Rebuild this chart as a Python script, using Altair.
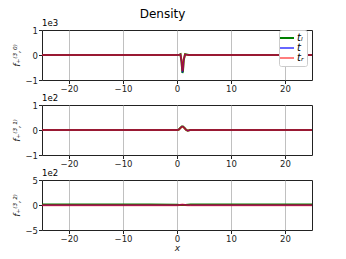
import altair as alt
import pandas as pd

# ---- data ----
series_names = ["tₗ", "t", "tᵣ"]

x1 = [-25, -5, 0.0, 0.4, 0.65, 0.85, 1.0, 1.1, 1.25, 1.5, 1.75, 2.2, 5, 25]
tl1 = [0, 0, 0, 5, 30, -300, -720, -650, -200, 30, 20, 0, 0, 0]
t1 = [0, 0, 0, 5, 25, -280, -690, -620, -190, 25, 15, 0, 0, 0]
tr1 = [0, 0, 0, 5, 20, -260, -650, -580, -170, 20, 10, 0, 0, 0]

x2 = [-25, -5, 0.0, 0.3, 0.6, 0.9, 1.1, 1.4, 1.7, 2.0, 2.4, 5, 25]
tl2 = [0, 0, 0, 1, 8, 14, 14, 8, 0, -3, 0, 0, 0]
t2 = [0, 0, 0, 1, 8, 14, 14, 8, 0, -3, 0, 0, 0]
tr2 = [0, 0, 0, 1, 7, 13, 13, 7, 0, -3, 0, 0, 0]

x3 = [-25, -5, 0.0, 0.5, 1.0, 1.5, 2.0, 2.5, 5, 25]
tl3 = [8, 8, 6, 2, 0, 2, 6, 8, 8, 8]
t3 = [-4, -4, -4, 2, 8, 2, -4, -4, -4, -4]
tr3 = [-4, -4, -4, 2, 8, 2, -4, -4, -4, -4]

y_titles = ["f₊⁽³,⁰⁾", "f₊⁽³,¹⁾", "f₊⁽³,²⁾"]
offsets = ["1e3", "1e2", "1e2"]
domains = [[-1000, 1000], [-100, 100], [-500, 500]]
scales = [1000, 100, 100]

colors = ["#008000", "#0000ff", "#ff0000"]
widths = [2, 1, 2]
opacities = [1, 1, 0.6]

color_scale = alt.Scale(domain=series_names, range=colors)


def make_df(xs, ys_list):
    rows = []
    for name, ys in zip(series_names, ys_list):
        for xv, yv in zip(xs, ys):
            rows.append({"x": xv, "y": yv, "series": name})
    return pd.DataFrame(rows)


dfs = [make_df(x1, [tl1, t1, tr1]), make_df(x2, [tl2, t2, tr2]), make_df(x3, [tl3, t3, tr3])]

legend = alt.Legend(
    title=None, orient="none", legendX=237, legendY=0,
    symbolType="stroke", symbolSize=196, labelFontSize=10, labelFontStyle="italic",
    fillColor="white", strokeColor="#cccccc", padding=3,
    cornerRadius=2, rowPadding=-3, labelOffset=5,
    symbolStrokeWidth={"expr": f"datum.value == '{series_names[1]}' ? 1.2 : 2"},
    symbolOpacity={"expr": f"datum.value == '{series_names[2]}' ? 0.5 : 1"},
)

panels = []
for i, df in enumerate(dfs):
    lo, hi = domains[i]
    sc = scales[i]
    last = i == 2
    xaxis = alt.Axis(values=[-20, -10, 0, 10, 20], grid=True, gridColor="#b0b0b0",
                     gridWidth=0.8, title="x" if last else None, titleFontStyle="italic",
                     titleFontWeight="normal", titleFontSize=9, titlePadding=0)
    yaxis = alt.Axis(values=[lo, 0, hi], grid=False, title=y_titles[i],
                     labelExpr=f"format(datum.value/{sc}, 'd')",
                     titleFontWeight="normal", titleFontStyle="italic",
                     titleFontSize=9, titlePadding=3)
    layers = []
    for j, name in enumerate(series_names):
        layers.append(
            alt.Chart(df).transform_filter(alt.datum.series == name)
            .mark_line(clip=True, strokeWidth=widths[j], opacity=opacities[j])
            .encode(
                x=alt.X("x:Q", scale=alt.Scale(domain=[-25, 25], nice=False), axis=xaxis),
                y=alt.Y("y:Q", scale=alt.Scale(domain=[lo, hi], nice=False), axis=yaxis),
                color=alt.Color("series:N", scale=color_scale, sort=series_names,
                                legend=legend if (i == 0 and j == 0) else None),
            )
        )
    panel = alt.layer(*layers).properties(
        width=270, height=50,
        title=alt.TitleParams(offsets[i], anchor="start", frame="group", fontSize=8.5,
                              fontWeight="normal", offset=-1),
    )
    panels.append(panel)

chart = alt.vconcat(*panels, spacing=-1).properties(
    title=alt.TitleParams("Density", fontSize=12, fontWeight="normal", anchor="middle",
                          offset=-3),
    padding={"left": 4, "top": 0, "right": 5, "bottom": 0},
).configure(font="DejaVu Sans").configure_view(
    stroke="#222222", strokeWidth=1
).configure_axis(
    domain=False, tickColor="#222222", tickSize=3.5, labelFontSize=8.5,
    labelColor="#222222", titleColor="#222222", labelPadding=1
).configure_title(color="#000000")

chart.save("out.html", embed_options={"renderer": "svg", "actions": False})
